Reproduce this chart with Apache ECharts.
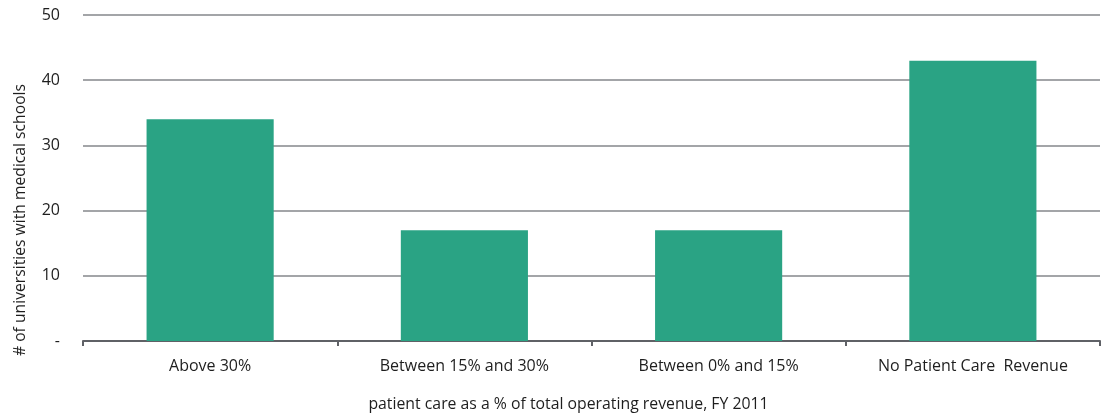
<!DOCTYPE html>
<html><head><meta charset="utf-8">
<script src="https://cdn.jsdelivr.net/npm/echarts@6/dist/echarts.min.js"></script>
<style>html,body{margin:0;padding:0;background:#fff}#c{width:1107px;height:415px}</style>
</head><body><div id="c"></div>
<script>
const categories = ['Above 30%', 'Between 15% and 30%', 'Between 0% and 15%', 'No Patient Care  Revenue'];
const values = [34, 17, 17, 43];
const yTicks = [0, 10, 20, 30, 40, 50];
const yTickLabels = ['-', '10', '20', '30', '40', '50'];
const yName = '# of universities with medical schools';
const xName = 'patient care as a % of total operating revenue, FY 2011';
const font = 'Open Sans';
const chart = echarts.init(document.getElementById('c'));
chart.setOption({
  animation: false,
  grid: {left: 83, right: 7, top: 15, bottom: 74, containLabel: false, outerBoundsMode: 'none'},
  xAxis: {
    type: 'category', data: categories,
    name: xName, nameLocation: 'middle', nameGap: 55,
    nameTextStyle: {fontFamily: font, fontSize: 15.8, color: '#1e1e1e', padding: [0, 46, 0, 0]},
    axisLine: {lineStyle: {color: '#5f6166', width: 2}},
    axisTick: {show: true, length: 5, lineStyle: {color: '#5f6166', width: 2}, alignWithLabel: false},
    axisLabel: {fontFamily: font, fontSize: 16, color: '#1e1e1e', margin: 17}
  },
  yAxis: {
    type: 'value', min: 0, max: 50, interval: 10,
    name: yName, nameLocation: 'middle', nameGap: 54, nameRotate: 90,
    nameTextStyle: {fontFamily: font, fontSize: 15.7, color: '#1e1e1e', padding: [0, 84, 0, 0]},
    axisLine: {show: false}, axisTick: {show: false},
    splitLine: {lineStyle: {color: '#a3a5a8', width: 2}},
    axisLabel: {fontFamily: font, fontSize: 16, color: '#1e1e1e', margin: 23,
      formatter: v => yTickLabels[yTicks.indexOf(v)]}
  },
  series: [{type: 'bar', data: values, barWidth: '50%', itemStyle: {color: '#2aa384'}}]
});
</script></body></html>
